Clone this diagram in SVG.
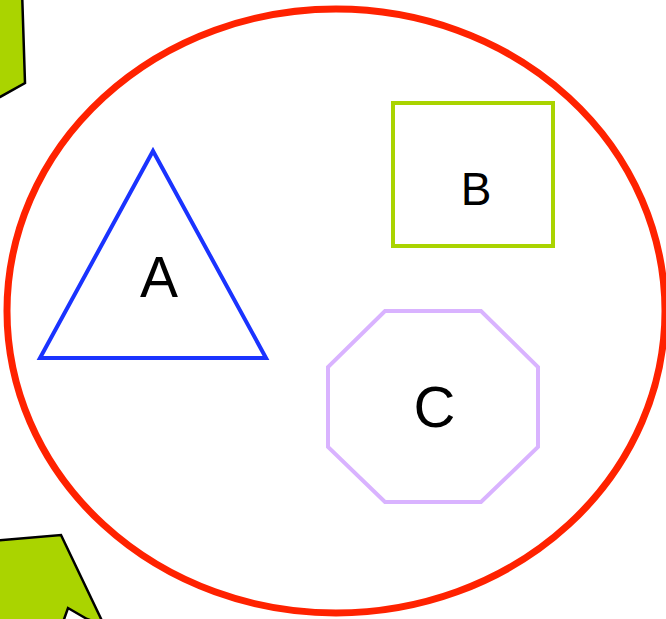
<svg xmlns="http://www.w3.org/2000/svg" width="666" height="619" viewBox="0 0 666 619">
<style>
.lbl{font-family:"Liberation Sans",Arial,sans-serif;fill:#000;text-anchor:middle}
.deco{fill:#aad400;stroke:#000;stroke-width:2.5;stroke-linejoin:miter}
</style>
<rect width="666" height="619" fill="#fff"/>
<polygon class="deco" points="-10,-10 22,-10 25,83 0,97 -10,100"/>
<polygon class="deco" points="-10,541 61,535 104,625 87,619 68,608 62,625 -10,625"/>
<g id="container">
<ellipse cx="336" cy="311" rx="329" ry="302" fill="none" stroke="#ff2200" stroke-width="7"/>
</g>
<g id="A">
<polygon points="153,151 266,358 40,358" fill="none" stroke="#1a33ff" stroke-width="4"/>
<text class="lbl" x="159" y="297" font-size="57">A</text>
</g>
<g id="B">
<rect x="393" y="103" width="160" height="143" fill="none" stroke="#aad400" stroke-width="4"/>
<text class="lbl" x="476" y="205" font-size="46">B</text>
</g>
<g id="C">
<polygon points="385,311 481,311 538,367 538,447 481,502 385,502 328,447 328,367" fill="none" stroke="#d9b3ff" stroke-width="4"/>
<text class="lbl" x="434.5" y="427" font-size="58">C</text>
</g>
<g id="connectors"></g>
</svg>
